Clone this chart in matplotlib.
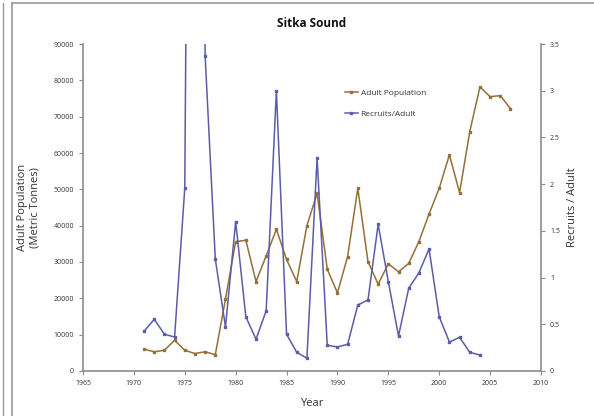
import matplotlib.pyplot as plt
from matplotlib.lines import Line2D

# data
years_adult = list(range(1971, 2008))
adult_pop = [6000, 5300, 5700, 8450, 5700, 4800, 5300, 4500, 19800, 35600,
             36000, 24600, 31700, 39000, 30700, 24600, 40000, 48900, 28000, 21500,
             31500, 50300, 30100, 23900, 29500, 27300, 29600, 35600, 43200, 50300,
             59500, 49100, 65900, 78200, 75500, 75800, 72200]

years_rec = list(range(1971, 2005))
recruits = [0.425, 0.553, 0.393, 0.364, 1.955, 17.0, 3.375, 1.199, 0.471, 1.60,
            0.58, 0.34, 0.645, 3.0, 0.393, 0.20, 0.136, 2.28, 0.275, 0.257,
            0.286, 0.706, 0.76, 1.57, 0.956, 0.375, 0.885, 1.05, 1.306, 0.58,
            0.31, 0.36, 0.20, 0.171]

brown = "#94703a"
blue = "#5c5ca8"
axis_gray = "#8c8c8c"
txt = "#333333"

plt.rcParams["font.family"] = ["Open Sans", "DejaVu Sans"]

fig = plt.figure(figsize=(5.94, 4.16), dpi=100)
ax = fig.add_axes([0.1397, 0.1082, 0.7711, 0.786])
ax2 = ax.twinx()

ax.plot(years_adult, adult_pop, color=brown, lw=1.1, marker="s", ms=2, zorder=3)
ax2.plot(years_rec, recruits, color=blue, lw=1.1, marker="s", ms=2, zorder=3)

ax.set_xlim(1965, 2010)
ax.set_ylim(0, 90000)
ax2.set_ylim(0, 3.5)
ax.set_xticks(range(1965, 2011, 5))
ax.set_yticks(range(0, 90001, 10000))
ax2.set_yticks([0, 0.5, 1, 1.5, 2, 2.5, 3, 3.5])
ax2.set_yticklabels(["0", "0.5", "1", "1.5", "2", "2.5", "3", "3.5"])

for a in (ax, ax2):
    for s in a.spines.values():
        s.set_visible(False)
    a.tick_params(labelsize=5, colors=txt, length=3, width=0.8)
    a.tick_params(axis="both", color=axis_gray)
ax.spines["left"].set_visible(True)
ax.spines["bottom"].set_visible(True)
ax2.spines["right"].set_visible(True)
for s in (ax.spines["left"], ax.spines["bottom"], ax2.spines["right"]):
    s.set_color(axis_gray)
    s.set_linewidth(1.2)

ax.set_xlabel("Year", fontsize=8, color=txt, labelpad=8)
ax.set_ylabel("Adult Population\n(Metric Tonnes)", fontsize=8, color=txt, labelpad=9)
ax2.set_ylabel("Recruits / Adult", fontsize=8, color=txt, labelpad=5)
ax.set_title("Sitka Sound", fontsize=8.5, fontweight="bold", color="#111111", pad=12)

handles = [Line2D([], [], color=brown, lw=1.1, marker="s", ms=2),
           Line2D([], [], color=blue, lw=1.1, marker="s", ms=2)]
ax.legend(handles, ["Adult Population", "Recruits/Adult"], loc="upper left",
          bbox_to_anchor=(0.555, 0.885), frameon=False, fontsize=6,
          handlelength=1.6, handletextpad=0.3, labelspacing=1.6, labelcolor=txt)

# chart area border lines
fig.add_artist(Line2D([12 / 594, 12 / 594], [0, 1 - 3 / 416], color="#999999", lw=1.2))
fig.add_artist(Line2D([12 / 594, 1], [1 - 3 / 416, 1 - 3 / 416], color="#999999", lw=1.2))
fig.add_artist(Line2D([3 / 594, 3 / 594], [0, 1 - 3 / 416], color="#999999", lw=1.0))

fig.savefig("out.png", dpi=100)
